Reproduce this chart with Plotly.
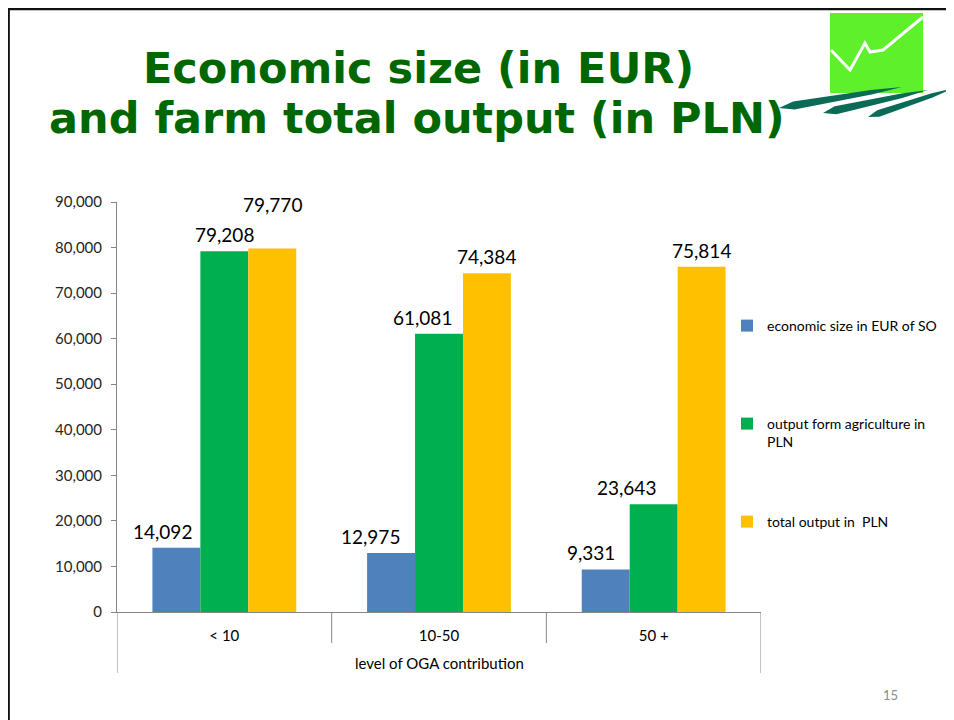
import math
import plotly.graph_objects as go

categories = ["< 10", "10-50", "50 +"]
economic_size_eur = [14092, 12975, 9331]
output_agri_pln = [79208, 61081, 23643]
total_output_pln = [79770, 74384, 75814]
y_ticks = [0, 10000, 20000, 30000, 40000, 50000, 60000, 70000, 80000, 90000]

series = [
    ("economic size in EUR of SO", economic_size_eur, "#4F81BD"),
    ("output form agriculture in<br>PLN", output_agri_pln, "#00B050"),
    ("total output in  PLN", total_output_pln, "#FFC000"),
]

# page geometry (reference pixel frame); the page body adds an 8px offset
W, H, OFF = 954, 720, 8
L, R, T, B = 117, 761, 202, 612
BARGAP = 0.33
bw = (1 - BARGAP) / 3


def px(x):
    return (x - L) / (R - L)


def py(y):
    return (B - y) / (B - T)


FONT = "Lato, 'Liberation Sans', Arial, sans-serif"
TFONT = "'DejaVu Sans', Verdana, sans-serif"

fig = go.Figure()
legend_names = ["legend", "legend2", "legend3"]
for i, (name, vals, col) in enumerate(series):
    fig.add_trace(go.Bar(
        x=list(range(len(categories))), y=vals, name=name,
        marker=dict(color=col, line=dict(width=0)),
        legend=legend_names[i], hoverinfo="y+name",
    ))

# data labels (nudges are styling only)
label_nudge = {(0, 0): (-14, 0), (0, 1): (-21, 0), (0, 2): (-15, 0),
               (1, 0): (0, 0), (1, 1): (-17, 0), (1, 2): (-27, 0),
               (2, 0): (0, 28), (2, 1): (0, 0), (2, 2): (0, 0)}
annotations = []
for si, (name, vals, col) in enumerate(series):
    for ci, v in enumerate(vals):
        dx, dy = label_nudge[(si, ci)]
        annotations.append(dict(
            x=ci + (si - 1) * bw, y=v, xref="x", yref="y",
            text=f"{v:,}", showarrow=False, yanchor="bottom",
            xshift=dx, yshift=3 + dy,
            font=dict(family=FONT, size=19, color="#000000"),
        ))

annotations.append(dict(
    x=1, y=py(663), xref="x", yref="paper", text="level of OGA contribution",
    showarrow=False, yanchor="middle",
    font=dict(family=FONT, size=15, color="#000000"),
))
for txt, cx, cy in [("Economic size (in EUR)", 418, 68), ("and farm total output (in PLN)", 417, 118)]:
    annotations.append(dict(
        x=px(cx), y=py(cy), xref="paper", yref="paper", text=f"<b>{txt}</b>",
        showarrow=False, font=dict(family=TFONT, size=43, color="#006600"),
        xanchor="center", yanchor="middle",
    ))
annotations.append(dict(
    x=px(900), y=py(695), xref="paper", yref="paper", text="15",
    showarrow=False, yanchor="middle",
    font=dict(family=FONT, size=13, color="#8C8C8C"),
))

shapes = []
# category separators
for xb, ybot in [(-0.5, 673), (0.5, 643), (1.5, 643), (2.5, 673)]:
    shapes.append(dict(type="line", xref="x", yref="paper", x0=xb, x1=xb,
                       y0=0, y1=py(ybot), line=dict(color="#868686", width=1)))

# slide border
shapes.append(dict(type="line", xref="paper", yref="paper", x0=px(8.6), x1=px(8.6),
                   y0=py(8), y1=py(740), line=dict(color="#111111", width=2.5)))
shapes.append(dict(type="line", xref="paper", yref="paper", x0=px(7), x1=px(970),
                   y0=py(9), y1=py(9), line=dict(color="#111111", width=2.5)))

# logo
shapes.append(dict(type="rect", xref="paper", yref="paper", x0=px(830), x1=px(923),
                   y0=py(93), y1=py(13), fillcolor="#5DF02B", line=dict(width=0)))
pts = [(831, 50), (850, 70), (865, 43), (870, 52), (883, 50), (923, 17)]
path = "M " + " L ".join(f"{px(a):.5f},{py(b):.5f}" for a, b in pts)
shapes.append(dict(type="path", xref="paper", yref="paper", path=path,
                   line=dict(color="white", width=3)))


def stroke(x0, y0, x1, y1, w):
    dx, dy = x1 - x0, y1 - y0
    n = math.hypot(dx, dy)
    nx, ny = -dy / n * w / 2, dx / n * w / 2
    p = [(x0, y0), (x0 + dx * 0.12 + nx, y0 + dy * 0.12 + ny),
         (x1 - dx * 0.25 + nx * 0.6, y1 - dy * 0.25 + ny * 0.6), (x1, y1),
         (x1 - dx * 0.25 - nx * 0.6, y1 - dy * 0.25 - ny * 0.6),
         (x0 + dx * 0.12 - nx, y0 + dy * 0.12 - ny)]
    return "M " + " L ".join(f"{px(a):.5f},{py(b):.5f}" for a, b in p) + " Z"


for (a, b, c, d, w) in [(779, 108, 902, 87, 8), (823, 113, 928, 90, 8), (868, 117, 954, 88, 7)]:
    shapes.append(dict(type="path", xref="paper", yref="paper", path=stroke(a, b, c, d, w),
                       fillcolor="#0B6B57", line=dict(width=0)))

fig.update_layout(
    width=W - OFF, height=H - OFF, autosize=False,
    margin=dict(l=L - OFF, r=W - R, t=T - OFF, b=H - B, pad=0),
    paper_bgcolor="white", plot_bgcolor="white",
    barmode="group", bargap=BARGAP, bargroupgap=0,
    font=dict(family=FONT, size=13, color="#000000"),
    annotations=annotations, shapes=shapes,
    xaxis=dict(
        tickmode="array", tickvals=list(range(len(categories))), ticktext=categories,
        range=[-0.5, 2.5], showline=True, linecolor="#868686", linewidth=1,
        ticks="", showgrid=False, zeroline=False,
        tickfont=dict(family=FONT, size=15, color="#000000"), ticklabelstandoff=10,
    ),
    yaxis=dict(
        range=[0, 90000], tickvals=y_ticks, tickformat=",", showline=True,
        linecolor="#868686", linewidth=1, ticks="outside", ticklen=5, tickcolor="#868686",
        showgrid=False, zeroline=False, ticklabelstandoff=6,
        tickfont=dict(family=FONT, size=15, color="#262626"),
    ),
    showlegend=True,
)
leg_y = [325, 423, 521]
for i, ln in enumerate(legend_names):
    fig.update_layout(**{ln: dict(
        x=px(727), y=py(leg_y[i] - 15), xanchor="left", yanchor="top",
        bgcolor="rgba(0,0,0,0)", font=dict(family=FONT, size=14, color="#000000"),
        valign="top", itemclick=False, itemdoubleclick=False,
    )})

fig.write_html("out.html")
